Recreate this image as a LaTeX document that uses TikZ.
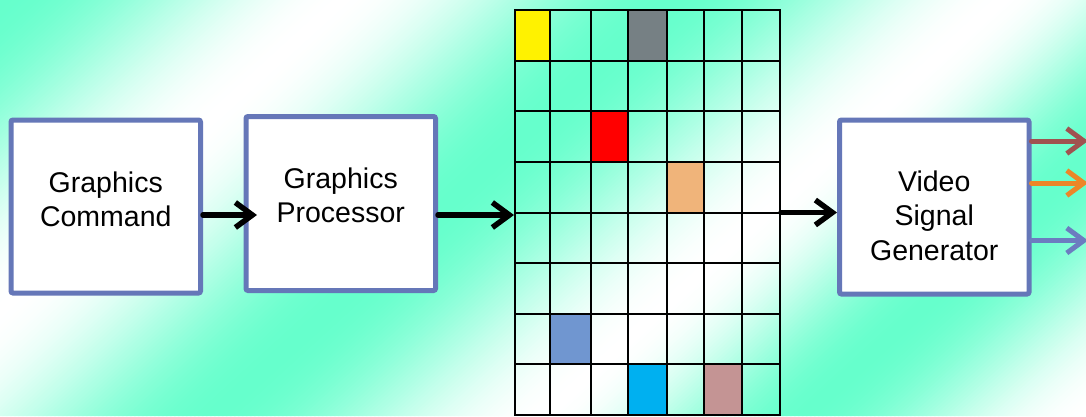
\documentclass[tikz,border=0pt]{standalone}
\usepackage{fontspec}
\setmainfont{Liberation Sans}
\usetikzlibrary{arrows.meta,calc}

\definecolor{aqua}{RGB}{102,255,204}
\definecolor{boxline}{RGB}{101,119,184}
\definecolor{cellgray}{RGB}{118,128,132}
\definecolor{cellorange}{RGB}{240,180,122}
\definecolor{cellblue}{RGB}{112,150,208}
\definecolor{cellcyan}{RGB}{0,176,240}
\definecolor{cellrose}{RGB}{196,148,148}
\definecolor{outred}{RGB}{160,82,80}
\definecolor{outorange}{RGB}{236,134,40}
\definecolor{outblue}{RGB}{108,124,192}

\begin{document}
\begin{tikzpicture}[x=1pt,y=-1pt,
  block/.style={draw=boxline, line width=5pt, fill=white, rounded corners=2pt,
    minimum width=189.5pt, inner sep=0pt},
  blocktext/.style={align=center, font=\fontsize{28.5}{34.5}\selectfont},
  flow/.style={line width=5.5pt, line cap=round, line join=round,
    -{Straight Barb[length=17pt,width=25pt]}},
  gridline/.style={line width=2pt}]

% --- Background (diagonal aqua/white bands) ---
\useasboundingbox (0,0) rectangle (1086,416);
\begin{scope}
  \clip (0,0) rectangle (1086,416);
  \foreach \f in {-8,-4,...,1548}{
    \pgfmathsetmacro\ph{\f<340 ? \f/340*180 :
      (\f<670 ? 180+(\f-340)/330*180 : (\f<1000 ? 360+(\f-670)/330*180 :
      (\f<1260 ? 540+(\f-1000)/260*180 : 720+(\f-1260)/280*180)))}
    \pgfmathsetmacro\p{50+50*cos(\ph)}
    \fill[aqua!\p!white] (\f,0) -- (\f+5,0) -- (\f+5-457.6,416) -- (\f-457.6,416) -- cycle;
  }
\end{scope}

% --- Frame buffer ---
\def\colx{{515,550,590.7,628.3,666.7,704,742.3,780}}
\def\rowh{50.625}
\foreach \c/\r/\col in {0/0/yellow, 3/0/cellgray, 2/2/red, 4/3/cellorange,
                        1/6/cellblue, 3/7/cellcyan, 5/7/cellrose}
  \fill[\col] ({\colx[\c]},{10+\r*\rowh}) rectangle ({\colx[\c+1]},{10+(\r+1)*\rowh});
\foreach \x in {550,590.7,628.3,666.7,704,742.3}
  \draw[gridline] (\x,10) -- (\x,415);
\foreach \r in {1,...,7}
  \draw[gridline] (515,{10+\r*\rowh}) -- (780,{10+\r*\rowh});
\node[draw, gridline, minimum width=265pt, minimum height=405pt, inner sep=0pt] (fb) at (647.5,212.5) {};

% --- Blocks ---
\node[block, minimum height=173pt] (cmd) at (105.75,206.5) {};
\node[block, minimum height=174pt] (gp) at (340.75,203.5) {};
\node[block, minimum height=174pt] (vsg) at (934.25,207) {};

\node[blocktext] (cmdtxt) at ($(cmd)+(0,-7.3)$) {Graphics\\Command};
\node[blocktext] (gptxt) at ($(gp)+(0,-8.4)$) {Graphics\\Processor};
\node[blocktext] (vsgtxt) at ($(vsg)+(0,8.5)$) {Video\\Signal\\Generator};

% --- Data flow ---
\draw[flow] ($(cmd.east)+(0,8.5)$) -- ($(gp.west)+(13.5,11.5)$);
\draw[flow] ($(gp.east)+(0,11.5)$) -- ($(fb.west)+(0,2.5)$);
\draw[flow] (fb.east) -- (fb.east -| vsg.west);

% Outputs (R, G, B)
\coordinate (outr) at (1088,141);
\coordinate (outg) at (1088,183);
\coordinate (outb) at (1088,240.5);
\draw[flow, line width=5pt, outred] (vsg.east |- outr) -- (outr);
\draw[flow, line width=5pt, outorange] (vsg.east |- outg) -- (outg);
\draw[flow, line width=5pt, outblue] (vsg.east |- outb) -- (outb);

\end{tikzpicture}
\end{document}
